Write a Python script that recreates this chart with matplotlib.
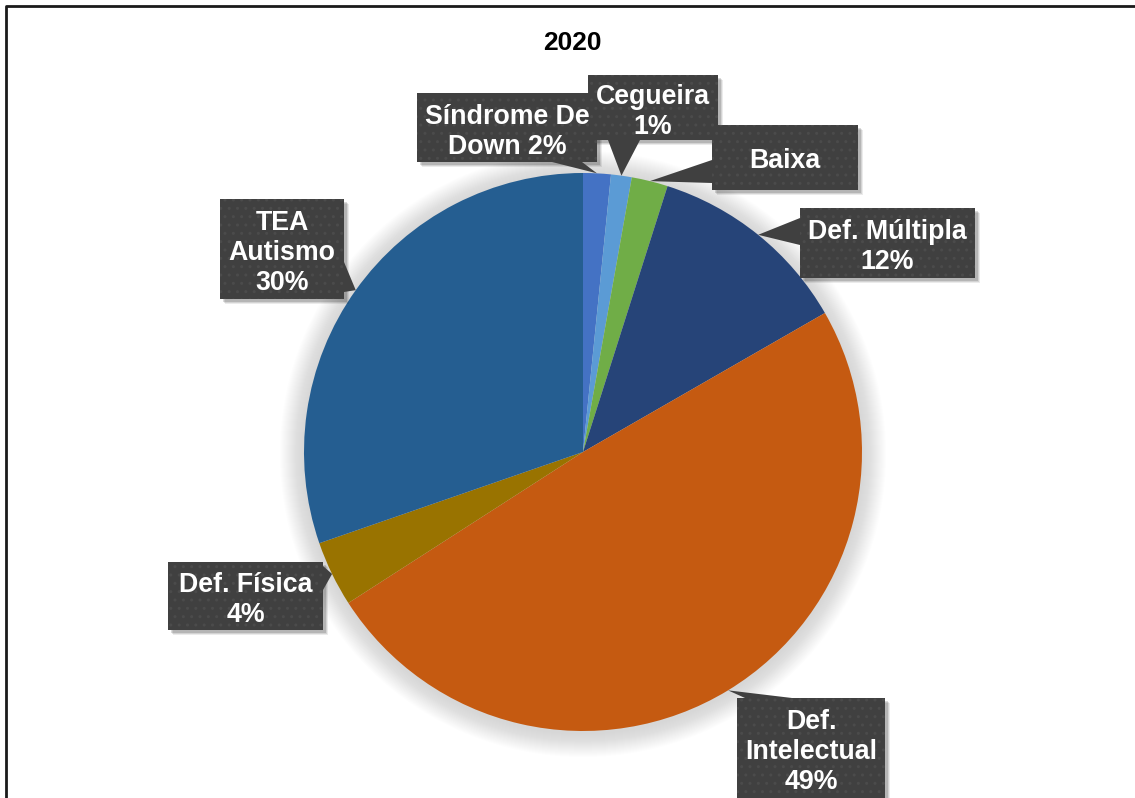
import numpy as np
import matplotlib
matplotlib.use("Agg")
import matplotlib.pyplot as plt
from matplotlib.patches import Rectangle, Polygon, Circle

# Alunos por tipo de deficiência (%)
categorias = ["Síndrome De Down", "Cegueira", "Baixa", "Def. Múltipla",
              "Def. Intelectual", "Def. Física", "TEA Autismo"]
percentuais = [1.6, 1.2, 2.1, 11.8, 49.2, 3.8, 30.3]
rotulos = ["Síndrome De\nDown {p}", "Cegueira\n{p}", "Baixa", "Def. Múltipla\n{p}",
           "Def.\nIntelectual\n{p}", "Def. Física\n{p}", "TEA\nAutismo\n{p}"]
titulo = "2020"

cores = ["#4472C4", "#5B9BD5", "#70AD47", "#264478",
         "#C55A11", "#997300", "#255E91"]

plt.rcParams["hatch.linewidth"] = 1.0

W, H = 1135, 798
fig = plt.figure(figsize=(W / 100, H / 100), dpi=100)
ax = fig.add_axes([0, 0, 1, 1])


def py(y):
    """image-row coordinate -> axes y"""
    return H - y


cx, cy, R = 583, py(452), 279

# soft glow around the pie
for k in range(24, 0, -1):
    ax.add_patch(Circle((cx, cy - 2), R + k, color="#a0a0a0",
                        alpha=0.016, lw=0, zorder=1))

wedges, _ = ax.pie(percentuais, colors=cores, startangle=90, counterclock=False,
                   center=(cx, cy), radius=R,
                   wedgeprops=dict(linewidth=0, zorder=2))
ax.set_xlim(0, W)
ax.set_ylim(0, H)
ax.set_aspect("equal")
ax.axis("off")

# outer frame (left and top edges)
ax.plot([5.5, 5.5, W + 5], [py(H + 5), py(6), py(6)], color="#1a1a1a", lw=2,
        solid_capstyle="butt", zorder=0)

ax.text(572, py(43), titulo, ha="center", va="center", fontsize=19,
        fontweight="bold", family="Liberation Sans", color="black")

# callout boxes: (x0, y0, x1, y1) in image rows, edge where the pointer sits, base span
caixas = [
    ((417, 93, 597, 162), "bottom", (552, 582)),
    ((588, 75, 718, 140), "bottom", (608, 640)),
    ((712, 125, 858, 190), "left", (160, 183)),
    ((800, 208, 975, 278), "left", (218, 245)),
    ((737, 698, 885, 812), "top", (745, 792)),
    ((168, 562, 323, 630), "right", (566, 590)),
    ((220, 199, 344, 299), "right", (262, 292)),
]

cum = np.cumsum([0] + percentuais)
for i, (box, lado, (b0, b1)) in enumerate(caixas):
    x0, y0, x1, y1 = box
    mid = np.deg2rad(90 - 3.6 * (cum[i] + percentuais[i] / 2))
    tip = (cx + R * np.cos(mid), cy + R * np.sin(mid))
    if lado == "bottom":
        base = [(b0, py(y1)), (b1, py(y1))]
    elif lado == "top":
        base = [(b0, py(y0)), (b1, py(y0))]
    elif lado == "left":
        base = [(x0, py(b0)), (x0, py(b1))]
    else:
        base = [(x1, py(b0)), (x1, py(b1))]
    tri = [base[0], tip, base[1]]
    for dx, dy, a in [(5, -5, 0.08), (4, -4, 0.10), (3, -3, 0.14)]:
        ax.add_patch(Rectangle((x0 + dx, py(y1) + dy), x1 - x0, y1 - y0,
                               color="#000000", alpha=a, lw=0, zorder=4))
    ax.add_patch(Polygon(tri, closed=True, facecolor="#404040",
                         edgecolor="none", zorder=5))
    ax.add_patch(Rectangle((x0, py(y1)), x1 - x0, y1 - y0, facecolor="#404040",
                           edgecolor="#4b4b4b", hatch="..", lw=0, zorder=5))
    txt = rotulos[i].format(p=f"{round(percentuais[i]):.0f}%")
    yc = (y0 + min(y1, H)) / 2 + 4
    ax.text((x0 + x1) / 2, py(yc), txt, ha="center", va="center",
            fontsize=19.3, fontweight="bold", family="Liberation Sans",
            color="white", linespacing=1.2, zorder=6)

fig.savefig("out.png", dpi=100, facecolor="white")
